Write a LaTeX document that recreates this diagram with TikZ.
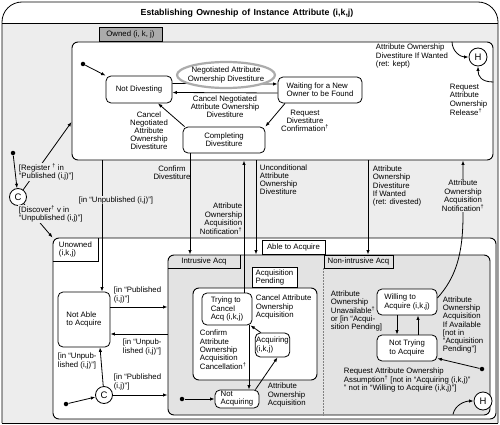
\documentclass[tikz,border=0pt]{standalone}
\usepackage{fontspec}
\setmainfont{Liberation Sans}
\newfontfamily\titlefont[WordSpace=1.4]{Liberation Sans}
\usetikzlibrary{arrows.meta,shapes.geometric}
\definecolor{bgray}{gray}{0.93}
\definecolor{rgray}{gray}{0.89}
\definecolor{tgray}{gray}{0.67}
\newcommand\lblsize{\fontsize{7.8}{8.1}\selectfont}
\newcommand\dg{\textsuperscript{†}}

\begin{document}
\begin{tikzpicture}[x=1pt, y=-1pt, line width=0.8pt,
    box/.style={draw, rounded corners=6, fill=white, line width=0.9pt},
    state/.style={draw, rounded corners=5, fill=white, align=center, font=\lblsize, inner sep=1pt},
    tab/.style={draw, fill=white, align=left, font=\lblsize, inner sep=1.5pt, minimum height=14},
    lbl/.style={align=center, font=\lblsize, inner sep=0.5pt},
    lbll/.style={lbl, align=left},
    lblr/.style={lbl, align=right},
    cover/.style={fill=bgray},
    pseudo/.style={draw, circle, fill=white, font=\fontsize{9.5}{9.5}\selectfont, inner sep=0pt, minimum size=17},
    dot/.style={circle, fill, inner sep=0pt, minimum size=4.5},
    arr/.style={-{Latex[length=4.5pt,width=3.4pt]}}
  ]
  \useasboundingbox (0,0) rectangle (500,425);

  % frame and title
  \fill[bgray] (2,23) rectangle (498,423);
  \draw[rounded corners=20] (2,423) -- (2,2) -- (498,2) -- (498,423);
  \draw (2,423) -- (498,423);
  \draw (2,23) -- (498,23);
  \node[font={\titlefont\bfseries\fontsize{8.8}{11}\selectfont}] (title) at (247,13)
    {Establishing Owneship of Instance Attribute (i,k,j)};

  % owned
  \node[box, minimum width=421, minimum height=118] (owned) at (282.5,101) {};
  \node[tab, fill=tgray, anchor=south west, minimum width=63] (otab) at ([xshift=27]owned.north west) {Owned (i, k, j)};

  % unowned
  \node[box, minimum width=443, minimum height=181] (unowned) at (274.5,328.5) {};
  \node[tab, draw=none, fill=none, anchor=north west, minimum width=45, minimum height=23] (utab) at (unowned.north west) {Unowned\\(i,k,j)};
  \draw (utab.south west) -| (utab.north east);

  % able to acquire
  \node[box, fill=rgray, minimum width=322, minimum height=160] (able) at (329,335) {};
  \node[tab, anchor=south west, minimum width=63] (atab) at ([xshift=94]able.north west) {Able to Acquire};
  \node[tab, draw=none, fill=none, anchor=north west, minimum width=72, minimum height=13, align=center] (itab) at (able.north west) {Intrusive Acq};
  \draw (itab.south west) -| (itab.north east);
  \node[tab, fill=none, anchor=north west, minimum width=69, minimum height=13] (ntab) at ([xshift=156]able.north west) {Non-intrusive Acq};
  \draw[gray, line width=0.7pt, dash pattern=on 1.5pt off 1.5pt] (ntab.south west) -- (ntab.south west |- able.south);

  % acquisition pending
  \node[box, minimum width=124, minimum height=92] (pend) at (255,334) {};
  \node[tab, anchor=south west, minimum width=45, minimum height=20] (ptab) at ([xshift=59]pend.north west) {Acquisition\\Pending};

  % states
  \node[state, minimum width=66, minimum height=27] (notdiv) at (139,89.5) {Not Divesting};
  \node[state, align=left, minimum width=84, minimum height=26] (waiting) at (320,90) {Waiting for a New\\Owner to be Found};
  \node[state, minimum width=82, minimum height=26] (compl) at (224,140) {Completing\\Divestiture};
  \node[state, align=left, minimum width=52, minimum height=55] (notable) at (84,319.5) {Not Able\\to Acquire};
  \node[state, align=left, minimum width=50, minimum height=32] (trying) at (227,309) {Trying to\\Cancel\\Acq (i,k,j)};
  \node[state, align=left, minimum width=32, minimum height=24] (acq) at (272.5,345) {Acquiring\\(i,k,j)};
  \node[state, align=left, minimum width=44, minimum height=18] (notacq) at (237,399) {Not\\Acquiring};
  \node[state, align=left, minimum width=60, minimum height=26] (willing) at (407,302) {Willing to\\Acquire (i,k,j)};
  \node[state, minimum width=60, minimum height=26] (nottry) at (407,348) {Not Trying\\to Acquire};
  \node[pseudo, minimum size=18] (h1) at (478,57) {H};
  \node[pseudo, minimum size=18] (h2) at (483,401) {H};
  \node[pseudo] (c1) at (18,197) {C};
  \node[pseudo] (c2) at (104,395) {C};
  \node[dot] (i1) at (83,64) {};
  \node[dot] (i2) at (13,153) {};
  \node[dot] (i3) at (66,404) {};
  \node[dot] (i4) at (182,399) {};
  \node[dot] (i5) at (482,369) {};

  % helper points
  \coordinate (x102) at ([xshift=18]notable.north);
  \coordinate (cd) at ([xshift=-34]compl.south);
  \coordinate (an) at ([xshift=17]trying.north);
  \coordinate (ud) at ([xshift=32]compl.south);
  \coordinate (dv) at ([xshift=-39]willing.north);
  \coordinate (aon) at ([xshift=56]willing.north);
  \coordinate (p1) at ([yshift=12.5]notable.east);
  \coordinate (p2) at ([yshift=-14.5]notable.east);
  \coordinate (cc) at ([xshift=22]trying.south);
  \coordinate (hb) at ([xshift=-30,yshift=-4]h2.south);

  % connectors in owned
  \draw[arr] (i1) -- (notdiv.north west);
  \draw[arr] ([yshift=6]notdiv.east) -- ([yshift=6]waiting.west);
  \draw[arr] ([yshift=-3]waiting.west) -- ([yshift=-3]notdiv.east);
  \draw[arr] ([xshift=2]compl.north west) -- ([xshift=19]notdiv.south);
  \draw[arr] ([xshift=-35]waiting.south) -- (compl.north east);
  \draw[arr] ([xshift=169.5]owned.north) .. controls +(0,10) and +(-8,0) .. (h1.west);
  \draw[arr] ([yshift=19]owned.east) .. controls +(-12,0) and +(0,10) .. (h1.south);
  \node[ellipse, draw=gray!65, line width=2.2pt, fill=white, minimum width=98, minimum height=26] (negoring) at (226,75) {};
  \node[lbl] (nego) at (negoring) {Negotiated Attribute\\Ownership Divestiture};

  % connectors between owned and unowned
  \draw[arr] (i2) -- (c1);
  \draw[arr] (c1) -- ([yshift=-21]owned.west);
  \draw[arr] (c1) -- (unowned.north west);
  \draw[arr] (x102 |- owned.south) -- (x102);
  \draw[arr] (cd) -- (cd |- able.north);
  \draw[arr] (an) -- (an |- owned.south);
  \draw[arr] (ud |- owned.south) -- (ud |- able.north);
  \draw[arr] (dv |- owned.south) -- (dv |- able.north);
  \draw[arr] ([yshift=4]willing.east) .. controls +(18,-20) and +(0,40) .. (aon |- 0,215) -- (aon |- owned.south);

  % connectors in unowned
  \draw[arr] (p1) -- (p1 -| able.west);
  \draw[arr] (p2 -| able.west) -- (p2);
  \draw[arr] (i3) -- (c2);
  \draw[arr] (c2) -- ([xshift=16]notable.south);
  \draw[arr] (c2) -- (c2 -| able.west);
  \draw[arr] (i4) -- (notacq.west);
  \draw[arr] (cc) -- (cc |- notacq.north);
  \draw[arr] ([xshift=-4]notacq.north east) -- ([xshift=5]acq.south);
  \draw[arr] ([xshift=6]acq.north west) -- ([xshift=-2]trying.south east);
  \draw[arr] ([xshift=-10]willing.south) -- ([xshift=-10]nottry.north);
  \draw[arr] ([xshift=11]nottry.north) -- ([xshift=11]willing.south);
  \draw[arr] (i5) -- ([yshift=3]nottry.south east);
  \draw[arr] (hb) .. controls +(2,-10) and +(-8,0) .. (h2.west);

  % labels
  \node[lbl] (lcancel2) at (225,107) {Cancel Negotiated\\Attribute Ownership\\Divestiture};
  \node[lbl] (lcancel1) at (149,131) {Cancel\\Negotiated\\Attribute\\Ownership\\Divestiture};
  \node[lbl] (lreqconf) at (305,121) {Request\\Divestiture\\Confirmation\dg};
  \node[lbll, anchor=west] (lkept) at (375,56) {Attribute Ownership\\Divestiture If Wanted\\(ret: kept)};
  \node[lbll, anchor=west] (lrelease) at (449,100) {Request\\Attribute\\Ownership\\Release\dg};
  \node[lbll, cover, anchor=west] (lreg) at (18,172) {[Register \dg\ in\\``Published (i,j)'']};
  \node[lbll, cover, anchor=west] (ldisc) at (18,214) {[Discover\dg\ v in\\``Unpublished (i,j)'']};
  \node[lbl, cover] (lunpub) at (116,200) {[in ``Unpublished (i,j)'']};
  \node[lbl] (lconfdiv) at (172,173) {Confirm\\Divestiture};
  \node[lblr, anchor=east] (laon1) at (243,219) {Attribute\\Ownership\\Acquisition\\Notification\dg};
  \node[lbll, anchor=west] (luncond) at (259,180) {Unconditional\\Attribute\\Ownership\\Divestiture};
  \node[lbll, anchor=west] (ldivested) at (372,186) {Attribute\\Ownership\\Divestiture\\If Wanted\\(ret: divested)};
  \node[lbl, cover] (laon2) at (463,196) {Attribute\\Ownership\\Acquisition\\Notification\dg};
  \node[lbll, anchor=west] (lpub1) at (113,295) {[in ``Published\\(i,j)'']};
  \node[lbll, anchor=west] (lunpub1) at (122,347) {[in ``Unpub-\\lished (i,j)'']};
  \node[lbll, anchor=west] (lunpub2) at (57,361) {[in ``Unpub-\\lished (i,j)'']};
  \node[lbll, anchor=west] (lpub2) at (113,382) {[in ``Published\\(i,j)'']};
  \node[lbll, anchor=west] (lcancelacq) at (255,307) {Cancel Attribute\\Ownership\\Acquisition};
  \node[lbll, anchor=west] (lconfacq) at (199,350) {Confirm\\Attribute\\Ownership\\Acquisition\\Cancellation\dg};
  \node[lbll, anchor=west] (lacq) at (267,395) {Attribute\\Ownership\\Acquisition};
  \node[lbll, anchor=west] (lunavail) at (330,311) {Attribute\\Ownership\\Unavailable\dg\\or [in ``Acqui-\\sition Pending]};
  \node[lbll, anchor=west] (lavail) at (442,325) {Attribute\\Ownership\\Acquisition\\If Available\\{}[not in\\``Acquisition\\Pending'']};
  \node[lbll, anchor=west] (lassume) at (343,380) {Request Attribute Ownership\\Assumption\dg\ [not in ``Acquiring (i,k,j)''\\'' not in ``Willing to Acquire (i,k,j)'']};
\end{tikzpicture}
\end{document}
